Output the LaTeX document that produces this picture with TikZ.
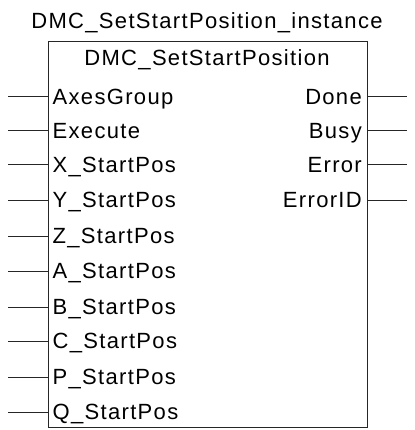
\documentclass[tikz,border=0pt]{standalone}
\usepackage{fontspec}
\setmainfont{Liberation Sans}[LetterSpace=6]
\begin{document}
\begin{tikzpicture}[x=1pt,y=-1pt,
  lbl/.style={inner sep=0pt,font=\fontsize{22}{24}\selectfont},
  wire/.style={line width=1pt,draw=black!85}]
\useasboundingbox (0,0) rectangle (414,430);
\node[draw=black!85,line width=1pt,minimum width=319pt,minimum height=385pt,inner sep=0pt] (box) at (207.5,234.5) {};
\node[lbl,anchor=base] (inst) at (207,28.3) {DMC\_SetStartPosition\_instance};
\node[lbl,anchor=base] (fb) at (207,66) {DMC\_SetStartPosition};
\foreach \n/\t/\y in {a/AxesGroup/97,b/Execute/131,c/X\_StartPos/165,d/Y\_StartPos/200,e/Z\_StartPos/236,f/A\_StartPos/271,g/B\_StartPos/307,h/C\_StartPos/341,i/P\_StartPos/377,j/Q\_StartPos/412}{
  \node[lbl,anchor=base west] (in\n) at (52.5,\y+7.5) {\t};
  \coordinate (pin\n) at (48,\y);
  \coordinate (ext\n) at (8,\y);
  \draw[wire] (ext\n) -- (pin\n);
}
\foreach \n/\t/\y in {a/Done/97,b/Busy/131,c/Error/165,d/ErrorID/200}{
  \node[lbl,anchor=base east] (out\n) at (362,\y+7.5) {\t};
  \coordinate (pout\n) at (367,\y);
  \coordinate (eout\n) at (407,\y);
  \draw[wire] (pout\n) -- (eout\n);
}
\end{tikzpicture}
\end{document}
